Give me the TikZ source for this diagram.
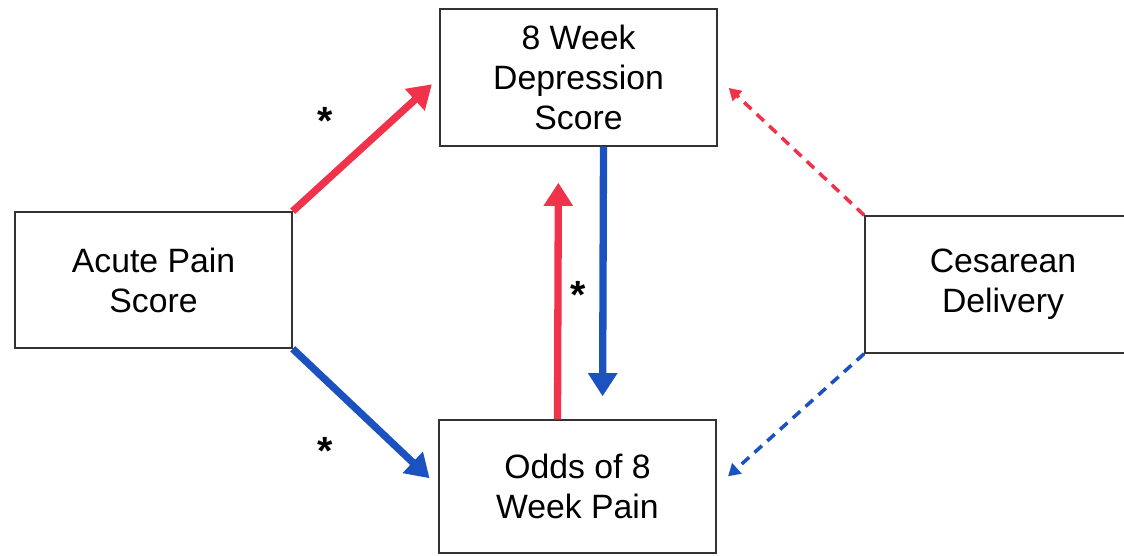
\documentclass[tikz,border=0pt]{standalone}
\usepackage{fontspec}
\setmainfont{Liberation Sans}
\usetikzlibrary{arrows.meta}

\definecolor{pathred}{RGB}{240,50,74}
\definecolor{pathblue}{RGB}{28,82,192}

\begin{document}
\begin{tikzpicture}[x=0.025cm, y=-0.025cm,
    box/.style={draw=black!80, line width=1.1pt, fill=white, align=center,
        inner sep=0pt, minimum width=6.92cm,
        font=\fontsize{24}{28.5}\selectfont},
    bigarrow/.style={line width=5.2pt, -{Triangle[length=0.58cm, width=0.7cm]}},
    dasharrow/.style={line width=2.5pt, dash pattern=on 0.25cm off 0.18cm,
        -{Triangle[length=0.3cm, width=0.34cm]}},
    sig/.style={anchor=north, inner sep=0pt, font=\fontsize{28}{28}\selectfont\bfseries}]

\useasboundingbox (0,0) rectangle (1124,555);

% draw boxes
\node[box, minimum height=3.4cm] (acute) at (153.5,280) {Acute Pain\\Score};
\node[box, minimum height=3.42cm] (depr) at (578.5,77.5) {8 Week\\Depression\\Score};
\node[box, minimum height=3.32cm] (odds) at (577.5,486.5) {Odds of 8\\Week Pain};
\node[box, minimum height=3.42cm, minimum width=6.9cm] (cesar) at (1003,284.5) {Cesarean\\Delivery};

% draw solid paths
\draw[bigarrow, pathred, shorten >=0.25cm] (acute.north east) -- (depr.west);
\draw[bigarrow, pathblue, shorten >=0.3cm] (acute.south east) -- (odds.west);
\draw[bigarrow, pathred, shorten >=0.9cm] ([xshift=-0.5cm]odds.north) -- ([xshift=-0.5cm]depr.south);
\draw[bigarrow, pathblue, shorten >=0.575cm] ([xshift=0.625cm]depr.south) -- ([xshift=0.625cm]odds.north);

% draw dashed paths
\draw[dasharrow, pathred, shorten >=0.38cm] (cesar.north west) -- (depr.east);
\draw[dasharrow, pathblue, shorten >=0.38cm] (cesar.south west) -- (odds.east);

% significance marks
\node[sig] (sig1) at (325,107) {*};
\node[sig] (sig2) at (325,437) {*};
\node[sig] (sig3) at (578,281) {*};

\end{tikzpicture}
\end{document}
